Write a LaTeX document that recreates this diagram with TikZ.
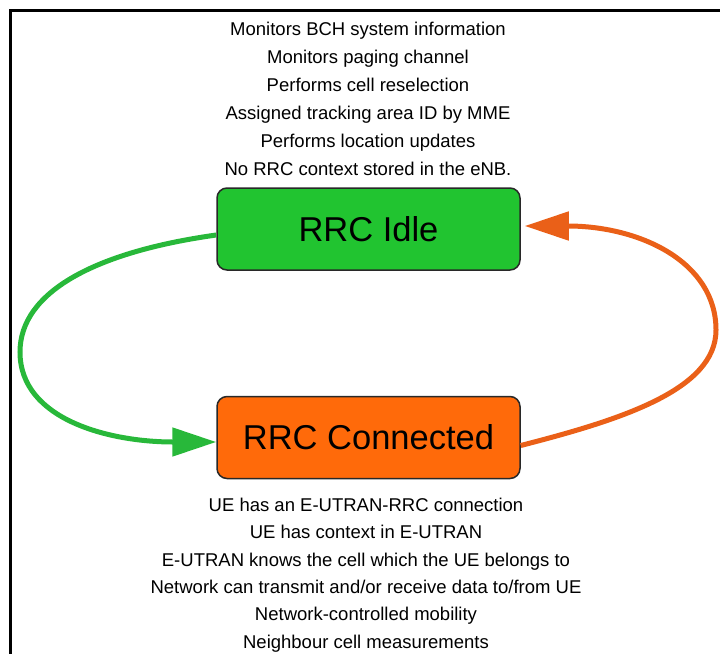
\documentclass[tikz,border=0pt]{standalone}
\usepackage{fontspec}
\setmainfont{Liberation Sans}
\usetikzlibrary{arrows.meta}
\definecolor{idlefill}{RGB}{33,196,48}
\definecolor{connfill}{RGB}{255,106,10}
\definecolor{greenline}{RGB}{40,184,58}
\definecolor{orangeline}{RGB}{234,96,24}
\definecolor{boxedge}{RGB}{40,40,40}
\tikzset{
  statebox/.style={draw=boxedge, line width=1.5pt, rounded corners=10pt,
    minimum width=303pt, minimum height=82pt, inner sep=0pt,
    font=\fontsize{34.5}{40}\selectfont},
  infotext/.style={align=center, inner sep=0pt, text=black},
  transition/.style={line width=5pt, -{Triangle[length=44pt,width=28pt]}}
}
\begin{document}
\begin{tikzpicture}[x=1pt,y=-1pt]
  \useasboundingbox (0,0) rectangle (720,654);
  % page frame (runs off the right and bottom edges)
  \coordinate (frameTR) at (720,10);
  \coordinate (frameTL) at (10,10);
  \coordinate (frameBL) at (10,654);
  \draw[line width=3pt] (frameTR) -- (frameTL) -- (frameBL);

  % states
  \node[statebox, fill=idlefill] (idle) at (368.5,229) {RRC Idle};
  \node[statebox, fill=connfill] (conn) at (368.5,437.5) {RRC Connected};

  % state descriptions
  \node[infotext, font=\fontsize{18.5}{28}\selectfont] (idleinfo) at (368,99) {%
    Monitors BCH system information\\
    Monitors paging channel\\
    Performs cell reselection\\
    Assigned tracking area ID by MME\\
    Performs location updates\\
    No RRC context stored in the eNB.};
  \node[infotext, font=\fontsize{18.5}{27.4}\selectfont] (conninfo) at (366,575) {%
    UE has an E-UTRAN-RRC connection\\
    UE has context in E-UTRAN\\
    E-UTRAN knows the cell which the UE belongs to\\
    Network can transmit and/or receive data to/from UE\\
    Network-controlled mobility\\
    Neighbour cell measurements};

  % transitions
  \draw[transition, greenline]
    ([yshift=-6pt]idle.west) .. controls (95,252) and (20,292) .. (20,352)
    .. controls (20,420) and (110,442) .. ([yshift=-4.5pt]conn.west);
  \draw[transition, orangeline]
    ([yshift=-8pt]conn.east) .. controls (620,420) and (716,390) .. (716,330)
    .. controls (716,262) and (640,226) .. ([yshift=3pt, xshift=4pt]idle.east);
\end{tikzpicture}
\end{document}
